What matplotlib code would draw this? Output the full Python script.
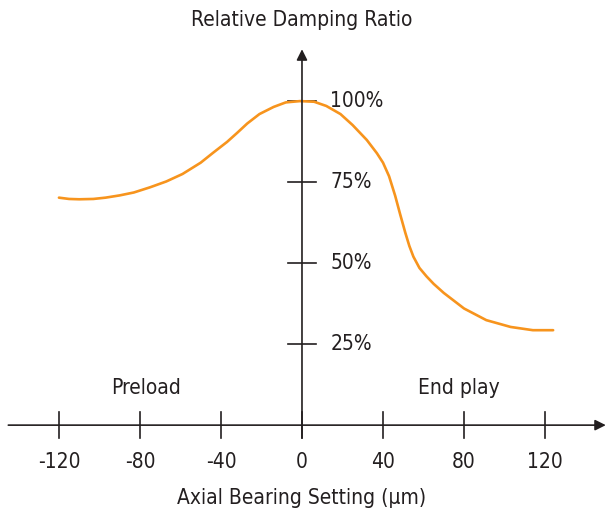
import matplotlib.pyplot as plt

# curve
setting_um = [-120, -115, -110, -103, -97, -90, -83, -75, -67, -59, -50, -44, -37, -32,
              -27, -21, -14, -8, -1, 6, 12, 19, 25, 32, 37, 40, 43, 46, 48.5, 51, 53,
              55, 58, 61.5, 65, 70, 80, 91, 103, 114, 124]
damping_pct = [70.2, 69.8, 69.7, 69.8, 70.2, 70.9, 71.8, 73.4, 75.2, 77.5, 81.0, 84.0,
               87.4, 90.2, 93.1, 96.0, 98.2, 99.6, 100.0, 99.8, 98.5, 96.0, 92.6, 88.0,
               83.9, 81.0, 76.8, 70.8, 65.0, 59.4, 55.3, 52.0, 48.5, 45.9, 43.6, 40.8,
               36.0, 32.4, 30.3, 29.3, 29.3]

x_ticks = [-120, -80, -40, 0, 40, 80, 120]
y_ticks = [25, 50, 75, 100]
y_tick_labels = ['25%', '50%', '75%', '100%']

plt.rcParams['font.family'] = ['DejaVu Sans']
plt.rcParams['font.stretch'] = 'condensed'

fig = plt.figure(figsize=(6.06, 5.11), dpi=100)
ax = fig.add_axes([0, 0, 1, 1])
ax.set_xlim(-149.1, 150.1)
ax.set_ylim(-26.5, 131.2)
ax.axis('off')

axis_color = '#231f20'

# axes with arrows
ax.annotate('', xy=(150.0, 0), xytext=(-145, 0),
            arrowprops=dict(arrowstyle='-|>', color=axis_color, lw=1.2,
                            mutation_scale=16, shrinkA=0, shrinkB=0))
ax.annotate('', xy=(0, 116), xytext=(0, -4),
            arrowprops=dict(arrowstyle='-|>', color=axis_color, lw=1.2,
                            mutation_scale=16, shrinkA=0, shrinkB=0))

for t in x_ticks:
    ax.plot([t, t], [-4, 4], color=axis_color, lw=1.2)
    ax.text(t, -11.5, str(t), ha='center', va='center', fontsize=15, color=axis_color)

for t, lab in zip(y_ticks, y_tick_labels):
    ax.plot([-7, 7], [t, t], color=axis_color, lw=1.2)
    ax.text(14, t, lab, ha='left', va='center', fontsize=15, color=axis_color)

ax.plot(setting_um, damping_pct, color='#f7941d', lw=1.9, solid_capstyle='round',
        solid_joinstyle='round')

ax.text(0, 125, 'Relative Damping Ratio', ha='center', va='center', fontsize=15, color=axis_color)
ax.text(-77, 11.5, 'Preload', ha='center', va='center', fontsize=15, color=axis_color)
ax.text(77.5, 11.5, 'End play', ha='center', va='center', fontsize=15, color=axis_color)
ax.text(0, -22.5, 'Axial Bearing Setting (μm)', ha='center', va='center', fontsize=15,
        color=axis_color)

fig.savefig('out.png', dpi=100)
